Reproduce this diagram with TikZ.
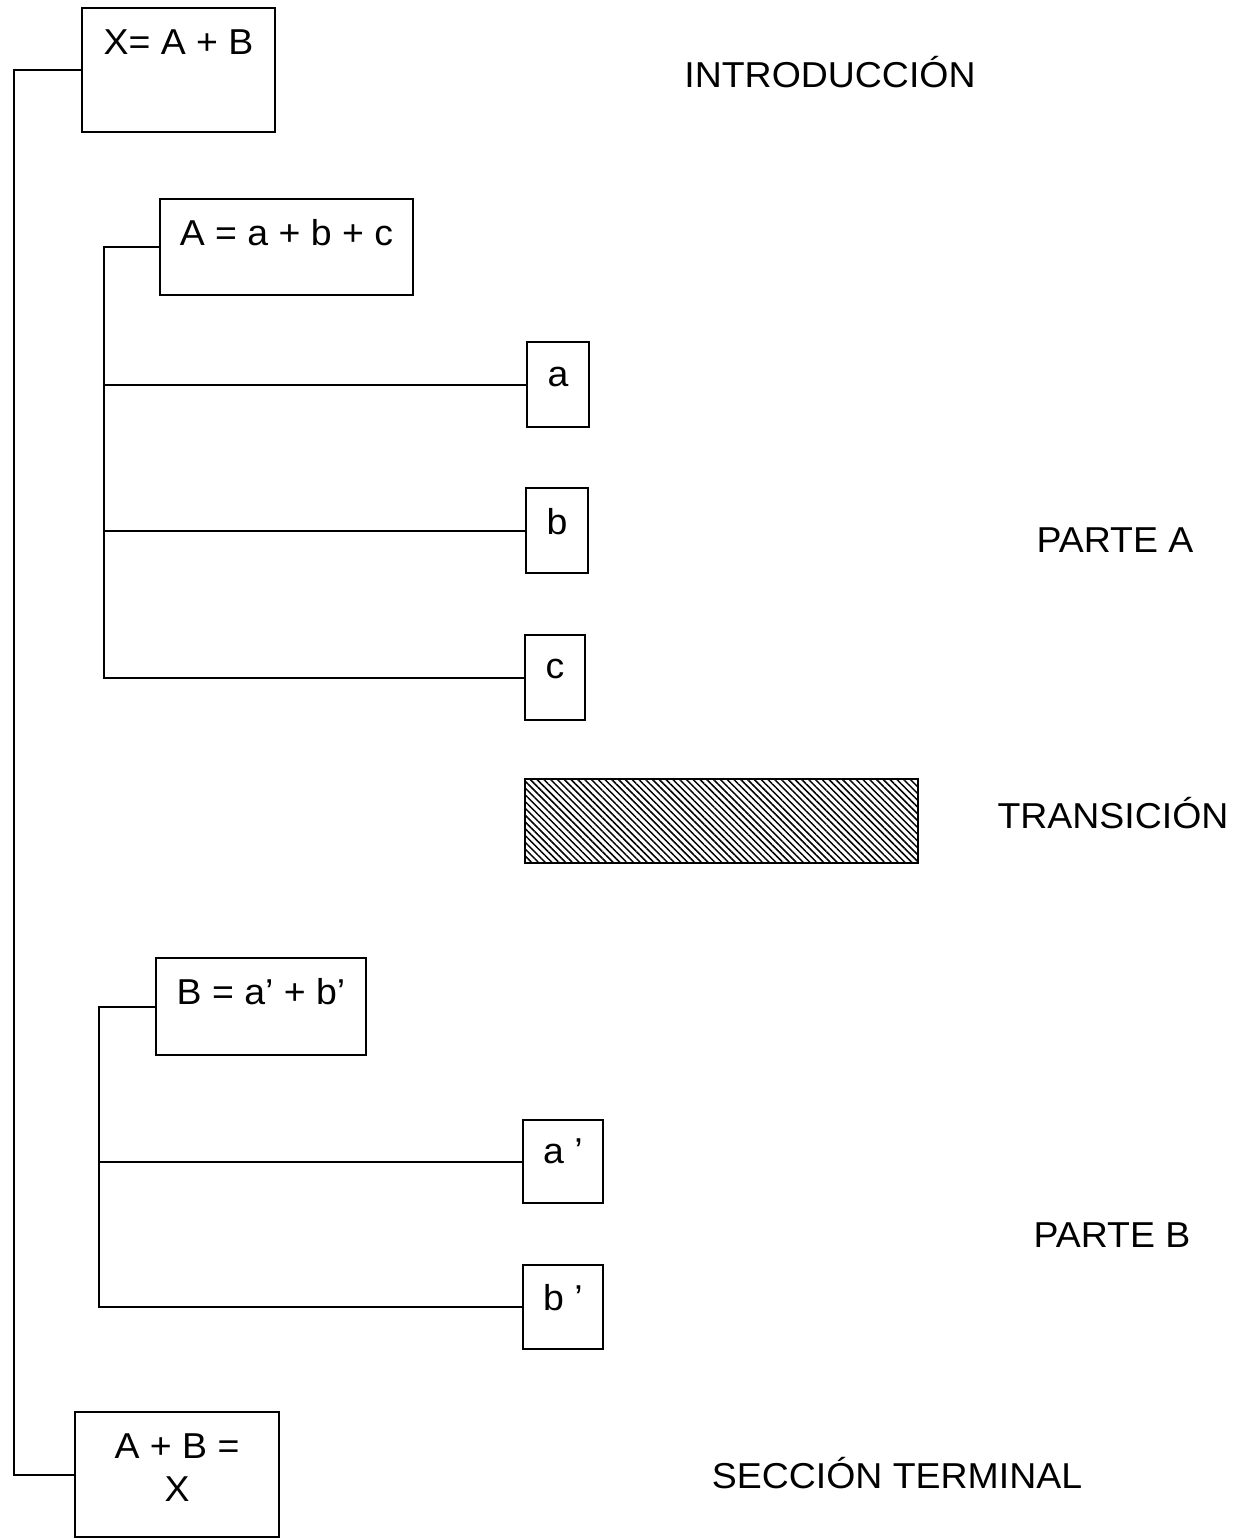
\documentclass[tikz,border=0pt]{standalone}
\usepackage{fontspec}
\setmainfont{Liberation Sans}[FakeStretch=1.04]
\usetikzlibrary{patterns.meta}

\begin{document}
\begin{tikzpicture}[x=1pt, y=-1pt, line width=2pt,
  eqbox/.style args={#1/#2/#3}{draw, anchor=north, inner sep=0pt, minimum width=#1,
    text height=#2, text depth=#3, font=\fontsize{36}{43}\selectfont},
  part/.style={anchor=base, font=\fontsize{36}{43}\selectfont}]
  \useasboundingbox (0,0) rectangle (1244,1539);

  % boxes
  \node[eqbox={193pt/46pt/78pt}] (X) at (178.5,7) {X= A + B};
  \node[eqbox={253pt/46pt/50pt}] (A) at (286.5,198) {A = a + b + c};
  \node[eqbox={62pt/44pt/41pt}] (a) at (558,341) {a};
  \node[eqbox={62pt/46pt/39pt}] (b) at (557,487) {b};
  \node[eqbox={60pt/43pt/42pt}] (c) at (555,634) {c};
  \node[draw, inner sep=0pt, minimum width=393pt, minimum height=84pt,
    pattern={Lines[angle=-45, distance=4.8pt, line width=1.5pt]}] (T) at (721.5,821) {};
  \node[eqbox={210pt/46pt/51pt}] (B) at (261,957) {B = a’ + b’};
  \node[eqbox={80pt/43pt/40pt}] (a2) at (563,1119) {a ’};
  \node[eqbox={80pt/45pt/39pt}] (b2) at (563,1264) {b ’};
  \node[eqbox={204pt/89pt/36pt}, align=center] (S) at (177,1411) {A + B =\\X};

  % connectors
  \draw (X.west) -- ++(-67,0) |- (S.west);
  \draw (A.west) -- ++(-55,0) coordinate (trunkA) |- (c.west);
  \draw (a.west) -- (a.west -| trunkA);
  \draw (b.west) -- (b.west -| trunkA);
  \draw (B.west) -- ++(-56,0) coordinate (trunkB) |- (b2.west);
  \draw (a2.west) -- (a2.west -| trunkB);

  % section labels
  \node[part] (intro) at (830,87) {INTRODUCCIÓN};
  \node[part] (parteA) at (1115,552) {PARTE A};
  \node[part] (trans) at (1113,828) {TRANSICIÓN};
  \node[part] (parteB) at (1112,1247) {PARTE B};
  \node[part] (term) at (897,1488) {SECCIÓN TERMINAL};
\end{tikzpicture}
\end{document}
